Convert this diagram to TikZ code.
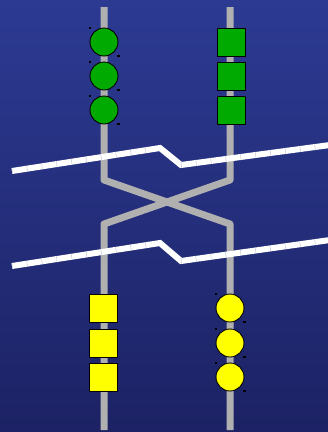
\documentclass[tikz,border=0pt]{standalone}
\begin{document}
\begin{tikzpicture}[x=1pt,y=-1pt,
  track/.style={line width=7pt,draw={rgb,255:red,176;green,176;blue,176},line join=round},
  wire/.style={line width=6pt,draw=white,line join=miter},
  wiretick/.style={line width=6pt,draw={rgb,255:red,205;green,205;blue,215},dash pattern=on 0.6pt off 14.4pt},
  bead/.style={circle,draw=black,line width=0.9pt,minimum size=28pt,inner sep=0pt},
  block/.style={rectangle,draw=black,line width=0.9pt,minimum size=28pt,inner sep=0pt},
  handle/.style={fill=black,minimum width=2.5pt,minimum height=1.2pt,inner sep=0pt}]
\definecolor{bgtop}{RGB}{44,58,146}
\definecolor{bgbot}{RGB}{28,34,100}
\definecolor{gfill}{RGB}{0,170,0}
\definecolor{yfill}{RGB}{255,255,0}
\useasboundingbox (0,0) rectangle (328,432);
\shade[top color=bgtop,bottom color=bgbot] (0,0) rectangle (328,432);

% track bends
\coordinate (la) at (104,7);   \coordinate (lb) at (104,180);
\coordinate (lc) at (104,224); \coordinate (ld) at (104,430);
\coordinate (ra) at (230,7);   \coordinate (rb) at (230,180);
\coordinate (rc) at (230,224); \coordinate (rd) at (230,430);

\draw[track] (la) -- (lb) -- (rc) -- (rd);
\draw[track] (ra) -- (rb) -- (lc) -- (ld);

% upper and lower wires with a kink
\coordinate (u1) at (12,171);  \coordinate (u2) at (160,148);
\coordinate (u3) at (181,165); \coordinate (u4) at (330,145);
\coordinate (w1) at (12,266);  \coordinate (w2) at (160,243);
\coordinate (w3) at (181,261); \coordinate (w4) at (330,240);
\foreach \a/\b/\c/\d in {u1/u2/u3/u4, w1/w2/w3/w4}{
  \draw[wire] (\a) -- (\b) -- (\c) -- (\d);
  \draw[wiretick] (\a) -- (\b);
  \draw[wiretick] (\c) -- (\d);
}

% green beads and blocks
\foreach \i/\y in {1/42,2/76,3/110}{
  \node[bead,fill=gfill] (gc\i) at (104,\y) {};
  \node[handle] (gm\i a) at (90,\y-14) {};
  \node[handle] (gm\i b) at (118.5,\y+14) {};
  \node[block,fill=gfill] (gs\i) at (231,\y) {};
}
% yellow blocks and beads
\foreach \i/\y in {1/308,2/343,3/377}{
  \node[block,fill=yfill] (ys\i) at (103.5,\y) {};
  \node[bead,fill=yfill] (yc\i) at (230,\y) {};
  \node[handle] (ym\i a) at (216,\y-14) {};
  \node[handle] (ym\i b) at (244.5,\y+14) {};
}
\end{tikzpicture}
\end{document}
